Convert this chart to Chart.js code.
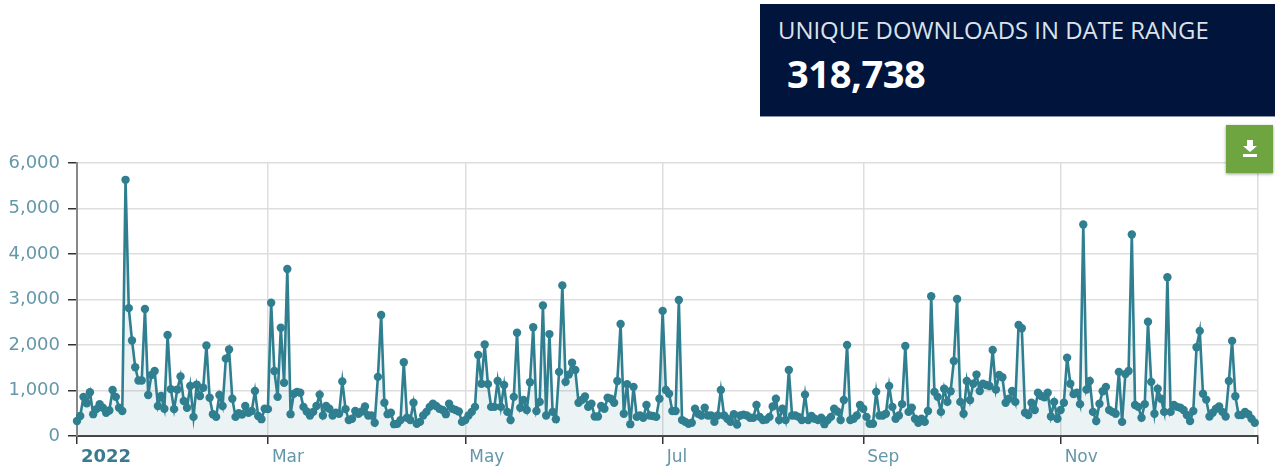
<!DOCTYPE html>
<html lang="en">
<head>
<meta charset="UTF-8">
<title>Unique downloads</title>
<script src="https://cdn.jsdelivr.net/npm/chart.js"></script>
<style>
  html, body { margin: 0; padding: 0; background: #fff; overflow: hidden; }
  #wrap { position: relative; width: 1275px; height: 466px; filter: blur(0.7px); }
  #myChart { position: absolute; left: 0; top: 0; }
  #panel { position: absolute; left: 760px; top: 4px; width: 515px; height: 113px; background: #00143c;
           border-bottom: 1px solid #8a93a5; box-sizing: border-box; font-family: "Open Sans", sans-serif; }
  #panel .label { position: absolute; left: 18px; top: 9px; font-size: 23.9px; color: #dde2ea; white-space: nowrap; }
  #panel .total { position: absolute; left: 27px; top: 43px; font-size: 38px; font-weight: 700; letter-spacing: -0.4px; color: #fff; white-space: nowrap; }
  #dl { position: absolute; left: 1226px; top: 125px; width: 47px; height: 48px; background: #6ea541;
        box-shadow: 0 1px 3px rgba(0,0,0,.4); }
  #dl svg { position: absolute; left: 16px; top: 15px; }
</style>
</head>
<body>

<div id="wrap">
  <canvas id="myChart" width="1275" height="466"></canvas>
  <div id="panel">
    <div class="label">UNIQUE DOWNLOADS IN DATE RANGE</div>
    <div class="total">318,738</div>
  </div>
  <div id="dl">
    <svg width="16" height="18" viewBox="0 0 16 18"><path d="M5 0h6v6h4l-7 6-7-6h4zM1 14h14v3H1z" fill="#fff"/></svg>
  </div>
</div>

<script>
// daily values (Jan 1 to Dec 31 2022)
const downloads = [
  330,440,860,720,960,480,590,700,620,510,
  560,1010,860,620,550,5630,2810,2100,1510,1220,
  1220,2790,900,1340,1430,660,880,600,2220,1030,
  590,1020,1310,770,620,1100,420,1130,880,1060,
  1990,840,480,420,900,660,1700,1900,820,420,
  500,470,660,510,550,990,440,370,600,590,
  2930,1430,860,2380,1170,3670,480,930,970,950,
  640,540,450,530,660,910,450,660,600,450,
  510,490,1200,590,350,380,550,490,540,650,
  450,450,290,1300,2660,730,480,510,260,270,
  350,1620,400,350,730,270,310,450,530,640,
  710,660,600,570,480,710,600,570,540,310,
  350,450,530,640,1780,1150,2010,1140,640,640,
  1210,640,1120,530,350,860,2270,620,790,570,
  1180,2390,550,750,2870,450,2240,530,370,1410,
  3310,1190,1350,1610,1450,730,790,870,640,710,
  430,430,660,600,840,820,730,1210,2460,490,
  1140,260,1080,420,450,400,680,450,440,420,
  820,2750,1010,930,550,550,2990,350,310,270,
  290,600,490,450,620,450,450,310,450,1010,
  450,380,310,480,250,450,470,450,400,400,
  680,420,350,360,420,650,820,350,600,350,
  1450,450,450,420,350,910,350,440,380,350,
  400,260,350,420,600,540,350,790,2000,350,
  380,450,680,600,420,270,270,970,450,450,
  490,1100,640,380,450,700,1980,530,620,380,
  290,380,310,550,3070,970,860,530,1040,750,
  985,1650,3010,750,490,1210,790,1150,1350,990,
  1150,1120,1100,1890,1020,1340,1290,730,820,990,
  750,2440,2370,510,460,730,570,950,880,850,
  950,430,750,380,570,730,1720,1150,920,950,
  700,4650,1020,1210,530,330,710,985,1080,570,
  530,490,1410,310,1360,1430,4430,680,640,400,
  700,2510,1190,490,1040,820,530,3490,530,680,
  640,620,570,460,330,550,1950,2310,930,800,
  430,510,600,650,530,430,1210,2090,875,460,
  460,530,480,380,290
];
const tickDays = [0, 59, 120, 181, 243, 304, 365];
const tickLabels = ['2022', 'Mar', 'May', 'Jul', 'Sep', 'Nov', ''];
const yTicks = [0, 1000, 2000, 3000, 4000, 5000, 6000];

const ctx = document.getElementById('myChart').getContext('2d');

const myChart = new Chart(ctx, {
  type: 'line',
  data: {
    datasets: [{
      label: 'Unique downloads',
      data: downloads.map((v, i) => ({ x: i, y: v })),
      borderColor: '#2f7f90',
      backgroundColor: 'rgba(58, 135, 151, 0.1)',
      borderWidth: 2.6,
      pointRadius: 4.2,
      pointBackgroundColor: '#2f7f90',
      pointBorderWidth: 0,
      tension: 0,
      fill: 'origin',
      clip: false
    }]
  },
  options: {
    responsive: false,
    animation: false,
    layout: { padding: { top: 163, right: 17, bottom: 0, left: 0 } },
    plugins: { legend: { display: false }, tooltip: { enabled: false } },
    scales: {
      x: {
        type: 'linear',
        min: 0,
        max: 365,
        afterBuildTicks: scale => { scale.ticks = tickDays.map(d => ({ value: d })); },
        afterFit: scale => { scale.height = 30; },
        grid: { color: '#dedede', lineWidth: 1.5, tickColor: '#333', tickLength: 8 },
        border: { color: '#444', width: 2 },
        ticks: {
          autoSkip: false,
          maxRotation: 0,
          align: 'start',
          labelOffset: 4,
          padding: 3,
          color: ctx => ctx.index === 0 ? '#3a7a8e' : '#6497aa',
          font: ctx => ({ family: '"DejaVu Sans"', size: ctx.index === 0 ? 18 : 17, weight: ctx.index === 0 ? 'bold' : 'normal' }),
          callback: value => tickLabels[tickDays.indexOf(value)]
        }
      },
      y: {
        min: 0,
        max: 6000,
        afterBuildTicks: scale => { scale.ticks = yTicks.map(v => ({ value: v })); },
        afterFit: scale => { scale.width = 77; },
        grid: { color: '#dedede', lineWidth: 1.5, tickColor: '#333', tickLength: 9 },
        border: { color: '#888', width: 2 },
        ticks: {
          padding: 8,
          color: '#6497aa',
          font: { family: '"DejaVu Sans"', size: 18 },
          callback: value => value.toLocaleString('en-US')
        }
      }
    }
  }
});
</script>

</body>
</html>
